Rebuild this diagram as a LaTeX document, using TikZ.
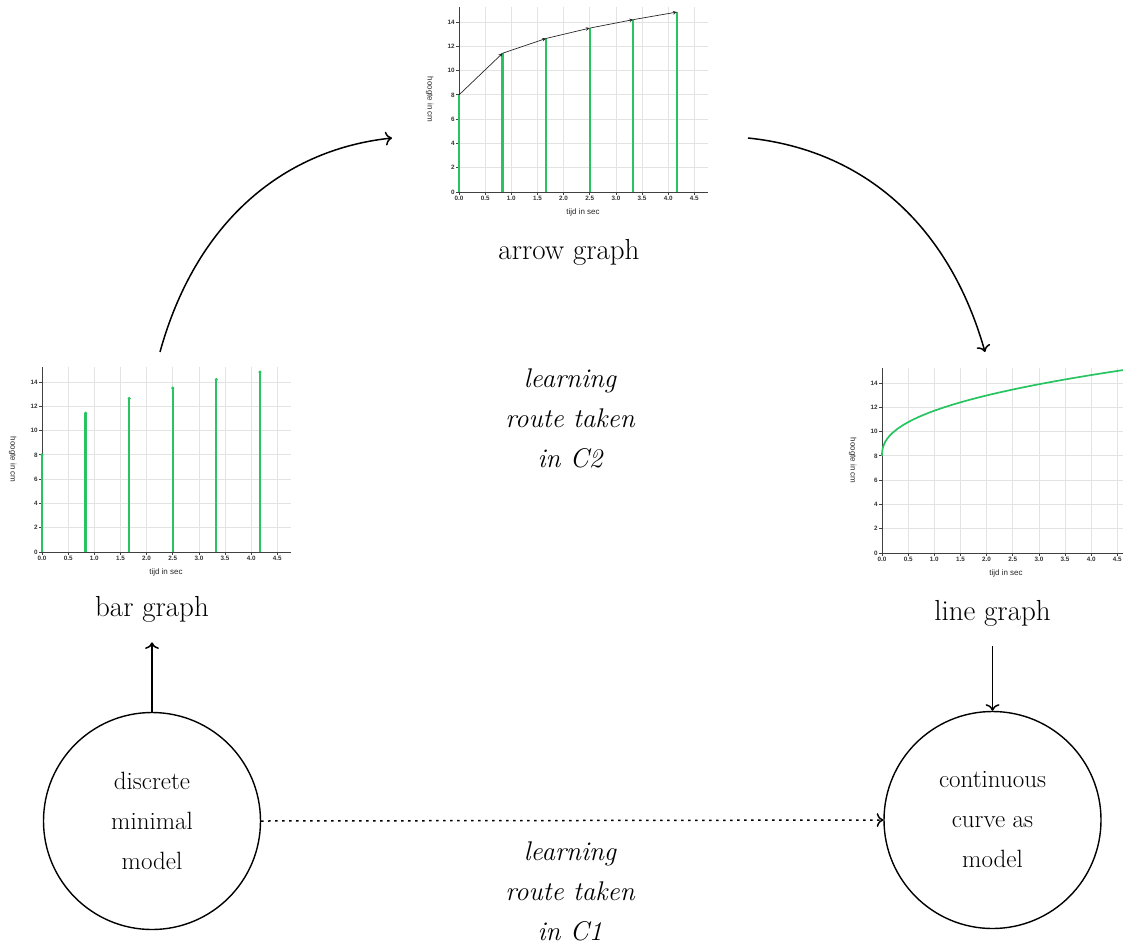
\documentclass[tikz,border=0pt]{standalone}
\usepackage{fontspec}
\newfontfamily\plotfont{Liberation Sans}
\usepackage{tikz}
\usetikzlibrary{arrows.meta}
\definecolor{plotgreen}{RGB}{40,196,98}

\begin{document}
\begin{tikzpicture}[x=1pt,y=-1pt,>={To[scale=1.35]},
  gridline/.style={gray!22,line width=0.8pt},
  axisline/.style={black!75,line width=0.8pt},
  ticklabel/.style={font=\plotfont\bfseries\fontsize{6.3}{6.3}\selectfont,text=black!80,inner sep=1pt},
  axislabel/.style={font=\plotfont\fontsize{8}{8}\selectfont,text=black!85},
  stem/.style={plotgreen,line width=2.2pt},
  steparrow/.style={black!85,line width=0.7pt,-{Stealth[length=4pt,width=3.5pt]}},
  plotframe/.style={inner sep=0pt,outer sep=0pt},
  graphlabel/.style={font=\fontsize{29}{29}\selectfont,anchor=base,outer sep=17pt},
  model/.style={draw,circle,line width=1.4pt,minimum size=217pt,inner sep=0pt,align=center,
    font=\fontsize{25}{40}\selectfont},
  route/.style={align=center,font=\itshape\fontsize{27}{40}\selectfont},
  flow/.style={->,line width=1.5pt}]
  \useasboundingbox (0,0) rectangle (1123,950);
  \clip (0,0) rectangle (1123,950);

  % Helper macro: height/time chart. #1 origin, #2 data drawn in chart units
  \newcommand{\heightplot}[2]{%
    \begin{scope}[shift={#1},x=52.3pt,y=12.14pt]
      % grid
      \foreach \t in {0.5,1.0,1.5,2.0,2.5,3.0,3.5,4.0,4.5}
        \draw[gridline] (\t,0) -- (\t,15.2);
      \foreach \h in {2,4,...,14}
        \draw[gridline] (0,\h) -- (4.76,\h);

      % axes with ticks
      \draw[axisline] (4.76,0) -- (0,0) -- (0,15.2);
      \foreach \t in {0.0,0.5,1.0,1.5,2.0,2.5,3.0,3.5,4.0,4.5}
        \draw[axisline] (\t,0) -- ++(0,-3pt) node[ticklabel,below] {\t};
      \foreach \h in {0,2,...,14}
        \draw[axisline] (0,\h) -- ++(-3pt,0) node[ticklabel,left] {\h};
      \node[axislabel,rotate=-90] at (-0.56,7.6) {hoogte in cm};
      \node[axislabel] at (2.37,-1.65) {tijd in sec};

      #2
    \end{scope}
  }

  \heightplot{(459,192)}{%
    \foreach \t/\h in {0/8,0.833/11.43,1.667/12.65,2.5/13.5,3.333/14.2,4.167/14.82}
      \draw[stem] (\t,0) -- (\t,\h);
    \foreach \ta/\ha/\tb/\hb in {0/8/0.833/11.43,0.833/11.43/1.667/12.65,1.667/12.65/2.5/13.5,
        2.5/13.5/3.333/14.2,3.333/14.2/4.167/14.82}
      \draw[steparrow] (\ta,\ha) -- (\tb,\hb);
  }
  \heightplot{(42,552)}{%
    \foreach \t/\h in {0/8,0.833/11.43,1.667/12.65,2.5/13.5,3.333/14.2,4.167/14.82}{
      \draw[stem] (\t,0) -- (\t,\h);
      \fill[plotgreen] (\t,\h) circle[radius=1.7pt];
    }
  }
  \heightplot{(882,553)}{%
    \draw[plotgreen,line width=1.7pt] (0,8) -- plot[samples at={0.0001,0.001,0.004,0.01,0.02,0.04,
        0.07,0.1,0.15,0.2,0.3,0.4,...,4.8}] (\x,{8+3.72*\x^0.42});
  }

  % frames used as connector ends
  \node[plotframe,minimum width=356pt,minimum height=276pt] (arrowplot) at (570,138) {};
  \node[plotframe,minimum width=300pt,minimum height=240pt] (barplot) at (160,472) {};
  \node[plotframe,minimum width=276pt,minimum height=240pt] (lineplot) at (985,472) {};

  \node[graphlabel] (arrowlabel) at (569,259) {arrow graph};
  \node[graphlabel] (barlabel) at (152,616) {bar graph};
  \node[graphlabel] (linelabel) at (992.5,620) {line graph};

  \node[model] (discrete) at (152,821) {discrete\\minimal\\model};
  \node[model] (continuous) at (992.5,820) {continuous\\curve as\\model};

  \node[route] (routetwo) at (570,418) {learning\\route taken\\in C2};
  \node[route] (routeone) at (570,891) {learning\\route taken\\in C1};

  % connectors
  \draw[flow] (barplot.north) .. controls (195,225) and (280,150) .. (arrowplot.west);
  \draw[flow] (arrowplot.east) .. controls (864,150) and (949,225) .. (lineplot.north);
  \draw[flow] (discrete.north) -- (barlabel.south);
  \draw[flow] (linelabel.south) -- (continuous.north);
  \draw[flow,dash pattern=on 2.5pt off 4.5pt] (discrete.east) -- (continuous.west);
\end{tikzpicture}
\end{document}
